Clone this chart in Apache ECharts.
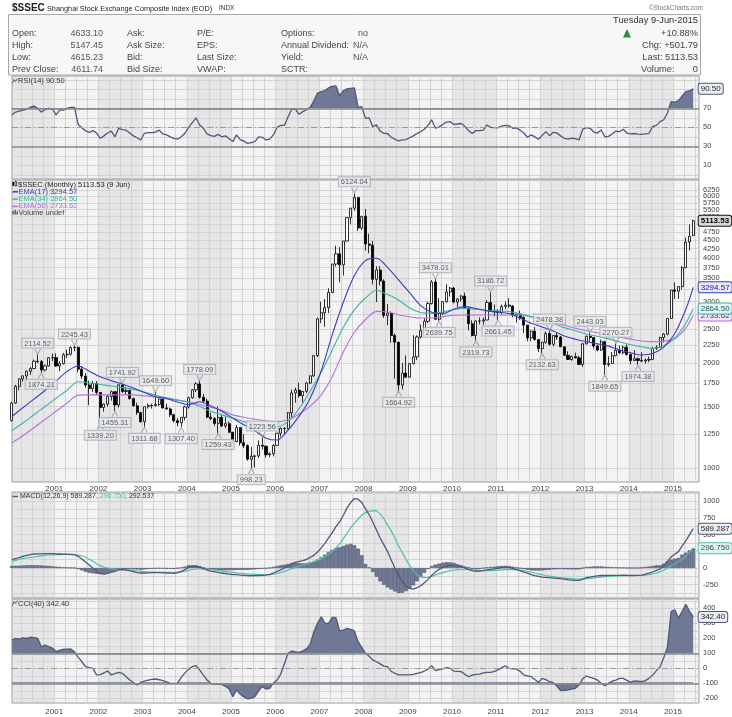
<!DOCTYPE html>
<html><head><meta charset="utf-8">
<script src="https://cdn.jsdelivr.net/npm/echarts@6/dist/echarts.min.js"></script>
<style>html,body{margin:0;padding:0;background:#fff}#c{width:732px;height:717px}</style>
</head><body><div id="c"></div>
<script>
// ---------------- DATA (monthly, index 0 = Jan 2000) ----------------
const firstYear = 2000;
const opens = [
1368,1535,1714,1800,1836,1894,1928,2023,2021,1910,1961,2070,
2073,1960,1990,2112,2119,2214,2218,1920,1834,1730,1689,1747,
1646,1491,1524,1604,1654,1516,1732,1657,1669,1581,1507,1442,
1358,1499,1512,1510,1521,1576,1487,1477,1421,1367,1348,1397,
1497,1590,1675,1742,1595,1555,1399,1386,1342,1396,1320,1340,
1266,1191,1306,1181,1159,1060,1080,1083,1162,1155,1092,1099,
1161,1258,1299,1298,1440,1641,1672,1612,1658,1752,1837,2099,
2675,2786,2881,3183,3841,4109,3820,4471,5218,5552,5955,4871,
5262,4383,4348,3473,3693,3433,2736,2775,2397,2293,1729,1871,
1821,1991,2082,2373,2477,2633,2959,3412,2668,2779,2996,3195,
3277,2989,3051,3110,2871,2592,2398,2638,2639,2656,2979,2820,
2808,2790,2905,2928,2911,2743,2762,2701,2567,2359,2468,2333,
2199,2292,2428,2263,2397,2373,2225,2103,2047,2086,2069,1980,
2269,2385,2366,2237,2178,2301,1979,1994,2098,2175,2141,2220,
2116,2033,2056,2033,2026,2039,2048,2202,2217,2364,2420,2683,
3235,3210,3310,3748,4442,4633.10];
const highs = [
1546,1730,1806,1843,1900,1948,2045,2114.52,2038,1980,2079,2125,
2131,2025,2137,2183,2232,2245.43,2230,1960,1870,1780,1777,1776,
1650,1530,1620,1667,1662,1736,1741.92,1710,1680,1590,1540,1450,
1500,1531,1530,1649.60,1580,1590,1530,1490,1430,1390,1400,1507,
1600,1685,1760,1778.09,1630,1580,1440,1400,1500,1420,1400,1360,
1270,1330,1310,1250,1170,1150,1090,1200,1223.56,1160,1110,1170,
1260,1307,1310,1445,1678,1700,1757,1660,1760,1840,2100,2698,
2995,3050,3274,3841,4335,4300,4471,5218,5562,6124.04,5955,5273,
5522,4695,4472,3786,3786,3473,2952,2810,2430,2300,2000,2100,
2000,2402,2400,2579,2688,2995,3454,3478.01,3068,3000,3361,3300,
3306,3060,3129,3181,2880,2650,2650,2700,2700,3030,3186.72,2940,
2850,2940,3000,3067,2930,2780,2826,2720,2570,2480,2536,2340,
2300,2460,2478.38,2400,2453,2390,2230,2160,2100,2140,2100,2280,
2400,2443.03,2370,2250,2334,2315,2092,2150,2270.27,2242,2243,2260,
2130,2177,2075,2146,2060,2087,2224,2248,2378,2434,2683,3239,
3406,3324,3790,4572,4986,5147.45];
const lows = [
1361,1527,1668,1768,1791,1850,1925,1999,1874.21,1890,1955,2026,
1950,1893,1980,2068,2100,2160,1880,1800,1700,1514,1650,1620,
1339.20,1450,1500,1560,1455.31,1490,1640,1620,1570,1500,1420,1348,
1311.68,1480,1480,1500,1505,1480,1470,1400,1350,1316,1307.40,1370,
1480,1580,1650,1580,1540,1390,1370,1320,1259.43,1310,1300,1262,
1177,1185,1160,1140,1050,998.23,1004,1070,1130,1070,1074,1080,
1160,1230,1250,1290,1400,1540,1590,1540,1640,1740,1825,2080,
2600,2541,2780,3170,3780,3404,3560,4450,5000,5462,4778,4812,
4195,4123,3357,2990,3333,2693,2566,2284,1802,1664.92,1678,1814,
1814,1985,2037,2350,2460,2600,2940,2667,2639.75,2750,2980,3100,
2963,2890,3000,2860,2481,2382,2319.73,2580,2574,2650,2800,2720,
2661.45,2750,2850,2880,2700,2610,2660,2437,2308,2307,2319,2149,
2132.63,2270,2242,2230,2330,2220,2100,2040,2029,2060,1974,1949,
2260,2300,2200,2161,2170,1849.65,1950,1990,2090,2120,2120,2100,
1984,2030,1974.38,2010,1991,2010,2040,2180,2210,2290,2400,2680,
3049,3050,3250,3740,4198,4615.23];
const closes = [
1535,1714,1800,1836,1894,1928,2023,2021,1910,1961,2070,2073,
1960,1990,2112,2119,2214,2218,1920,1834,1730,1689,1747,1646,
1491,1524,1604,1654,1516,1732,1657,1669,1581,1507,1442,1358,
1499,1512,1510,1521,1576,1487,1477,1421,1367,1348,1397,1497,
1590,1675,1742,1595,1555,1399,1386,1342,1396,1320,1340,1266,
1191,1306,1181,1159,1060,1080,1083,1162,1155,1092,1099,1161,
1258,1299,1298,1440,1641,1672,1612,1658,1752,1837,2099,2675,
2786,2881,3183,3841,4109,3820,4471,5218,5552,5955,4871,5262,
4383,4348,3473,3693,3433,2736,2775,2397,2293,1729,1871,1821,
1991,2082,2373,2477,2633,2959,3412,2668,2779,2996,3195,3277,
2989,3051,3110,2871,2592,2398,2638,2639,2656,2979,2820,2808,
2790,2905,2928,2911,2743,2762,2701,2567,2359,2468,2333,2199,
2292,2428,2263,2397,2373,2225,2103,2047,2086,2069,1980,2269,
2385,2366,2237,2178,2301,1979,1994,2098,2175,2141,2220,2116,
2033,2056,2033,2026,2039,2048,2202,2217,2364,2420,2683,3235,
3210,3310,3748,4442,4611.74,5113.53];

// EMA readings (quarterly samples + last bar)
const emaMonths = [0,3,6,9,12,15,18,21,24,27,30,33,36,39,42,45,48,51,54,57,60,63,66,69,72,75,78,81,84,87,90,93,96,99,102,105,108,111,114,117,120,123,126,129,132,135,138,141,144,147,150,153,156,159,162,165,168,171,174,177,180,183,185];
const ema17 = [1405,1489,1575,1668,1776,1892,1960,1895,1825,1780,1740,1695,1645,1600,1583,1545,1520,1548,1505,1455,1390,1330,1278,1218,1203,1285,1408,1585,1900,2410,2985,3560,3930,3990,3760,3460,3180,2920,2795,2770,2850,2900,2865,2820,2795,2770,2685,2600,2535,2470,2390,2340,2300,2268,2235,2180,2140,2108,2128,2220,2430,2850,3294.57];
const ema34 = [1280,1346,1421,1501,1584,1671,1767,1755,1735,1718,1700,1680,1652,1615,1590,1565,1543,1500,1455,1420,1390,1358,1337,1322,1313,1360,1480,1660,1880,2180,2530,2840,3070,3230,3140,3030,2875,2790,2775,2800,2845,2865,2850,2828,2818,2810,2760,2715,2670,2600,2525,2475,2420,2385,2345,2300,2255,2225,2200,2240,2360,2600,2864.50];
const ema50 = [1180,1237,1305,1378,1454,1534,1618,1620,1620,1620,1620,1620,1610,1595,1580,1565,1547,1520,1493,1465,1420,1398,1380,1365,1357,1375,1428,1504,1620,1830,2150,2450,2660,2810,2800,2750,2712,2690,2690,2715,2740,2745,2745,2745,2745,2745,2745,2710,2670,2620,2565,2515,2475,2440,2405,2370,2340,2312,2302,2310,2345,2520,2733.62];

const rsi14 = [
63,66,67,68,69,71,72.5,70,66,68.5,70,69.5,
63,68,68,70,71,71,53,49.5,46.5,44.5,46.5,44,
38.4,41,44,46,40,49,47.5,47,44,41,39,36.7,
43.7,44.5,44.5,45,47,43,42,40,38.4,37.5,40,43.7,
50,55,60,52.5,49,43,41.2,40.5,42.6,40,41,38,
35,42,37,35.5,33,34,35,40,39.5,36.7,37.5,42,
50,52,52,61,69,69,63.7,66.5,68.5,71,78,86,
87.5,88.5,91.5,93,93.5,83.3,88.5,90.5,91,91.5,71,71.7,
59.5,60,50.7,52.5,46,43.7,43.5,39.5,37.5,35.6,36.7,37,
39,41,43.5,45.5,48,52,58,49,50.5,53,55.5,56,
53,53.5,54,51,46.5,43.5,46.5,46.5,47,52.5,50,49.6,
49.5,51.4,52,51.5,49,49.5,47,44,39.5,42,40,37.4,
41.5,45.4,41.2,44.7,44,41,38.4,37.5,38.5,38,36.7,48,
49.6,49,45,44,47.2,40,40.5,43,46,45.4,48,44,
43,43.5,42.8,42.6,43,43.7,51,52,56,58,65,77,
76.5,78,83,87.5,88.5,90.50];

const macdLine = [
125,140,155,175,188,200,210,213,212,215,215,214,
212,210,208,206,204,200,175,135,90,45,0,-45,
-80,-90,-80,-62,-50,-28,-25,-32,-40,-55,-70,-75,
-75,-73,-70,-68,-70,-73,-75,-78,-80,-70,-50,-25,
10,22,25,15,-10,-30,-45,-55,-65,-75,-82,-90,
-98,-100,-105,-110,-115,-116,-115,-112,-110,-108,-95,-75,
-50,-28,0,30,65,85,100,110,130,160,190,240,
300,370,450,530,620,690,790,900,980,1040,1030,980,
890,800,690,570,450,350,250,120,0,-110,-200,-270,
-305,-315,-295,-265,-220,-170,-110,-60,-20,10,30,40,
40,30,20,0,-20,-40,-50,-45,-38,-28,-20,-12,
-5,5,10,5,-5,-20,-40,-60,-78,-100,-115,-125,
-135,-140,-145,-150,-155,-160,-168,-175,-180,-185,-185,-165,
-145,-135,-125,-118,-112,-112,-110,-110,-110,-110,-108,-110,
-112,-112,-110,-105,-90,-78,-60,-35,-15,35,100,165,
205,245,330,410,500,589.287];
const macdSignal = [
100,115,128,140,150,160,165,175,183,190,195,198,
200,201,202,202,201,200,195,183,165,130,100,65,
35,15,0,-10,-18,-20,-22,-25,-30,-38,-45,-50,
-55,-58,-60,-62,-63,-64,-65,-66,-66,-65,-58,-48,
-35,-22,-15,-12,-14,-17,-22,-28,-35,-42,-50,-58,
-65,-72,-78,-83,-88,-93,-96,-99,-100,-101,-99,-92,
-80,-68,-50,-30,-10,10,28,42,58,75,95,115,
140,170,205,250,300,360,440,520,600,670,730,790,
830,850,860,855,810,740,640,560,450,330,230,130,
40,-40,-100,-135,-145,-140,-125,-105,-85,-70,-55,-40,
-30,-25,-22,-22,-25,-28,-32,-36,-38,-38,-36,-34,
-32,-28,-25,-24,-25,-28,-35,-42,-52,-62,-75,-88,
-100,-112,-122,-130,-138,-145,-150,-155,-160,-163,-165,-163,
-160,-155,-148,-142,-136,-130,-126,-122,-120,-117,-115,-113,
-113,-112,-112,-110,-106,-100,-90,-75,-55,-30,0,30,
65,95,130,180,235,296.750];
const macdHist = [
30,32,35,38,40,42,42,40,38,35,30,25,
20,15,10,8,5,2,-15,-35,-55,-70,-80,-88,
-90,-85,-70,-55,-40,-25,-20,-15,-15,-18,-22,-25,
-20,-15,-12,-8,-7,-9,-10,-12,-14,-5,8,22,
40,42,40,27,5,-12,-22,-27,-30,-32,-32,-32,
-33,-28,-27,-27,-27,-23,-19,-13,-10,-7,4,17,
30,40,50,60,72,75,72,68,72,85,95,125,
160,200,240,270,300,310,330,350,360,340,290,190,
60,10,-60,-130,-200,-250,-290,-320,-350,-375,-370,-345,
-310,-260,-200,-130,-70,-15,30,50,65,80,85,85,
75,55,40,22,5,-12,-20,-12,-5,8,15,20,
25,30,32,28,20,8,-5,-18,-25,-35,-38,-38,
-35,-30,-25,-20,-18,-15,-18,-20,-20,-22,-20,-2,
15,20,23,24,24,18,16,12,10,7,7,3,
1,0,2,5,16,22,30,40,40,65,100,125,
140,150,200,230,265,292.537];

const cci40 = [
189,200,195,203,200,207,205,200,144,155,145,135,
112,120,127,128,129,110,75,44,12,5,0,-44,
-42,-30,-18,-44,-35,-27,-33,-55,-78,-95,-111,-93,
-85,-78,-74,-71,-76,-82,-90,-100,-100,-98,-60,-30,
-5,11,18,-11,-45,-78,-100,-107,-105,-107,-120,-138,
-189,-144,-173,-190,-204,-200,-189,-150,-122,-138,-133,-100,
-78,-38,30,100,116,110,107,116,130,160,244,300,
344,300,300,340,338,249,255,267,260,249,178,140,
100,80,56,44,30,15,11,-20,-33,-44,-44,-44,
-44,-40,-33,-28,-18,-5,18,-16,-8,-4,4,0,
-18,-20,-22,-40,-56,-45,-40,-38,-30,-27,-27,-20,
-11,5,16,0,-4,-4,-20,-44,-50,-56,-75,-93,
-67,-75,-89,-96,-120,-149,-146,-144,-138,-133,-111,-70,
-51,-60,-67,-78,-100,-116,-100,-85,-78,-67,-67,-80,
-93,-84,-86,-89,-82,-67,-45,-15,10,70,140,378,
390,335,380,427,380,342.40];

// price annotations: [month index, value, side]
const annotations = [[7,2114.52,'top'],[8,1874.21,'bottom'],[17,2245.43,'top'],[24,1339.20,'bottom'],[28,1455.31,'bottom'],[30,1741.92,'top'],[36,1311.68,'bottom'],[39,1649.60,'top'],[46,1307.40,'bottom'],[51,1778.09,'top'],[56,1259.43,'bottom'],[65,998.23,'bottom'],[68,1223.56,'top'],[93,6124.04,'top'],[105,1664.92,'bottom'],[115,3478.01,'top'],[116,2639.75,'bottom'],[126,2319.73,'bottom'],[130,3186.72,'top'],[132,2661.45,'bottom'],[144,2132.63,'bottom'],[146,2478.38,'top'],[157,2443.03,'top'],[161,1849.65,'bottom'],[164,2270.27,'top'],[170,1974.38,'bottom']];

// tick labels
const yearLabels = [2001,2002,2003,2004,2005,2006,2007,2008,2009,2010,2011,2012,2013,2014,2015];
const shadedYears = [2000,2002,2004,2006,2008,2010,2012,2014];
const priceTicks = [1000,1250,1500,1750,2000,2250,2500,2750,3000,3250,3500,3750,4000,4250,4500,4750,5000,5250,5500,5750,6000,6250];
const priceLabelsA = [1000,1250,1500,1750,2000,2250,2500,2750,3000,3250,3500,3750,4000,4250,4500,4750,5000,5250,5500,5750,6250];
const priceLabelsB = [6000];
const rsiTicks = [10,30,50,70,90];
const rsiLevels = [30,50,70];
const macdTicks = [-250,0,250,500,750,1000];
const cciTicks = [-200,-100,0,100,200,300,400];
const cciLevels = [-100,0,100];

// header info
const quote = {open:'4633.10', high:'5147.45', low:'4615.23', prev:'4611.74', date:'Tuesday 9-Jun-2015', pct:'+10.88%', chg:'+501.79', last:'5113.53', volume:'0'};

// ---------------- LAYOUT ----------------
const FONT = '"Liberation Sans", Arial, Helvetica, sans-serif';
const X0 = 12, XW = 687;
const XMIN = 0.54, XMAX = 187.07;
const P = {
  rsi:  {top: 76,  height: 103, min: -4.4, max: 104},
  main: {top: 180, height: 302, min: 912,  max: 6687},
  macd: {top: 492, height: 106, min: -449, max: 1138},
  cci:  {top: 599, height: 104, min: -231, max: 462}
};
function yPix(p, v) { return p.top + (p.max - v) / (p.max - p.min) * p.height; }
const xv = i => i + 0.5;
const quarterTicks = []; for (let m = 3; m <= 186; m += 3) quarterTicks.push(m);
const yearTicks = yearLabels.map(y => (y - firstYear) * 12);
const C = {bg:'#f3f3f3', band:'#e6e6e6', grid:'#d3d3d3', border:'#9c9c9c', slate:'#4f5878', fill:'#6f7894',
  e17:'#3b3bc4', e34:'#3db3a2', e50:'#b56fe0', sig:'#4fbfae', axis:'#444'};

const gridBase = {left: X0, width: XW, outerBoundsMode: 'none', containLabel: false};
const shown = {show: true, backgroundColor: 'rgba(0,0,0,0)', borderColor: C.border, borderWidth: 1};
const grids = [
  Object.assign({}, gridBase, shown, {top: P.rsi.top, height: P.rsi.height}),
  Object.assign({}, gridBase, {top: P.rsi.top, height: yPix(P.rsi, 70) - P.rsi.top}),
  Object.assign({}, gridBase, shown, {top: P.main.top, height: P.main.height}),
  Object.assign({}, gridBase, shown, {top: P.macd.top, height: P.macd.height}),
  Object.assign({}, gridBase, shown, {top: P.cci.top, height: P.cci.height}),
  Object.assign({}, gridBase, {top: P.cci.top, height: yPix(P.cci, 100) - P.cci.top}),
  Object.assign({}, gridBase, {top: yPix(P.cci, -100), height: P.cci.top + P.cci.height - yPix(P.cci, -100)})
];

function mkX(gi, showAxis, labels, margin) {
  return {type: 'value', gridIndex: gi, min: XMIN, max: XMAX, show: showAxis,
    axisLine: {show: false}, axisTick: {show: false, customValues: quarterTicks},
    axisLabel: {show: labels, customValues: yearTicks, formatter: v => String(firstYear + Math.round(v / 12)),
      fontSize: 8, fontFamily: FONT, color: C.axis, margin: margin || 3, hideOverlap: false},
    splitLine: {show: showAxis, lineStyle: {color: C.grid, width: 1}}};
}
function mkY(gi, p, gridVals, labelVals, type, split) {
  return {type: type || 'value', gridIndex: gi, min: p.min, max: p.max, position: 'right',
    axisLine: {show: false}, axisTick: {show: false, customValues: gridVals},
    axisLabel: {customValues: labelVals, formatter: v => String(Math.round(v)), fontSize: 7.5,
      fontFamily: FONT, color: C.axis, margin: 4, hideOverlap: false, showMinLabel: true, showMaxLabel: true},
    splitLine: {show: split !== false, lineStyle: {color: C.grid, width: 1}}};
}
const rsiGrid = []; for (let v = 0; v <= 100; v += 10) rsiGrid.push(v);
const macdGrid = []; for (let v = -375; v <= 1125; v += 125) macdGrid.push(v);
const cciGrid = []; for (let v = -200; v <= 450; v += 50) cciGrid.push(v);

const xAxes = [mkX(0, true, false), mkX(1, false, false), mkX(2, true, true, 3), mkX(3, true, false), mkX(4, true, true, 5), mkX(5, false, false), mkX(6, false, false)];
const yAxes = [
  mkY(0, P.rsi, rsiGrid, rsiTicks),
  {type: 'value', gridIndex: 1, min: 70, max: P.rsi.max, show: false},
  Object.assign(mkY(2, P.main, priceTicks, priceLabelsA, 'log'), {logBase: 10}),
  mkY(3, P.macd, macdGrid, macdTicks),
  mkY(4, P.cci, cciGrid, cciTicks),
  {type: 'value', gridIndex: 5, min: 100, max: P.cci.max, show: false},
  {type: 'value', gridIndex: 6, min: P.cci.min, max: -100, show: false},
  Object.assign(mkY(2, P.main, priceLabelsB, priceLabelsB, 'log', false), {logBase: 10})
];

function bandSeries(ai, yRef) {
  return {type: 'custom', xAxisIndex: ai, yAxisIndex: ai, z: -1, silent: true, animation: false,
    data: shadedYears.map(y => [(y - firstYear) * 12, (y - firstYear) * 12 + 12]),
    encode: {x: [0, 1]},
    renderItem: (params, api) => {
      const cs = params.coordSys;
      const a = api.coord([api.value(0), yRef])[0];
      const b = api.coord([api.value(1), yRef])[0];
      const area = {x: cs.x, y: cs.y, width: cs.width, height: cs.height};
      const r = echarts.graphic.clipRectByRect({x: a, y: cs.y, width: b - a, height: cs.height}, area);
      const children = [];
      if (params.dataIndex === 0) children.push({type: 'rect', shape: area, style: {fill: C.bg}, z2: -2});
      if (r) children.push({type: 'rect', shape: r, style: {fill: C.band}, z2: -1});
      return {type: 'group', children};
    }};
}
function badge(x, y, text, border, bg, color, bold) {
  return {silent: true, animation: false, symbol: 'rect', symbolSize: 1, itemStyle: {color: 'rgba(0,0,0,0)'},
    label: {show: true, position: 'right', distance: 5, formatter: text, fontFamily: FONT, fontSize: 8,
      fontWeight: bold ? 'bold' : 'normal', color: color, backgroundColor: bg, borderColor: border,
      borderWidth: 1, borderRadius: 2, padding: [1, 2, 0, 2], lineHeight: 9},
    data: [{coord: [x, y]}]};
}
function levelLines(levels, mid) {
  return {silent: true, animation: false, symbol: ['none', 'none'], label: {show: false},
    data: levels.map(v => ({yAxis: v, lineStyle: v === mid
      ? {color: '#9a9a9a', width: 1, type: [6, 3, 1, 3]}
      : {color: '#8a8a8a', width: 1.6, type: 'solid'}}))};
}
const last = closes.length - 1;
const pts = arr => arr.map((v, i) => [xv(i), v]);
const emaPts = arr => arr.map((v, k) => [xv(emaMonths[k]), v]);
const lineBase = {type: 'line', symbol: 'none', animation: false, silent: true};
const caretUp = 'path://M0,5L3,0L6,5';

const series = [
  bandSeries(0, 50), bandSeries(2, 2000), bandSeries(3, 0), bandSeries(4, 0),
  // RSI
  Object.assign({}, lineBase, {xAxisIndex: 1, yAxisIndex: 1, z: 1, data: pts(rsi14), lineStyle: {opacity: 0},
    areaStyle: {color: C.fill, opacity: 1, origin: 'start'}}),
  Object.assign({}, lineBase, {xAxisIndex: 0, yAxisIndex: 0, z: 4, data: pts(rsi14), lineStyle: {color: C.slate, width: 1.3},
    markLine: levelLines(rsiLevels, 50),
    markPoint: badge(xv(last), rsi14[last], rsi14[last].toFixed(2), C.slate, '#eceef3', '#222')}),
  // price
  {type: 'candlestick', xAxisIndex: 2, yAxisIndex: 2, z: 3, animation: false, silent: true, barWidth: 2.6,
    data: opens.map((o, i) => [xv(i), o, closes[i], lows[i], highs[i]]), encode: {x: 0, y: [1, 2, 3, 4]},
    itemStyle: {color: '#ffffff', color0: '#000000', borderColor: '#000000', borderColor0: '#000000', borderWidth: 0.8},
    markPoint: badge(xv(last), closes[last], closes[last].toFixed(2), '#111', '#d9d9d9', '#000', true)},
  Object.assign({}, lineBase, {xAxisIndex: 2, yAxisIndex: 2, z: 4, smooth: 0.3, data: emaPts(ema50), lineStyle: {color: C.e50, width: 1.1},
    markPoint: badge(xv(emaMonths[emaMonths.length - 1]), ema50[ema50.length - 1], ema50[ema50.length - 1].toFixed(2), C.e50, '#f3e8fb', '#4a2470')}),
  Object.assign({}, lineBase, {xAxisIndex: 2, yAxisIndex: 2, z: 4, smooth: 0.3, data: emaPts(ema34), lineStyle: {color: C.e34, width: 1.1},
    markPoint: badge(xv(emaMonths[emaMonths.length - 1]), ema34[ema34.length - 1], ema34[ema34.length - 1].toFixed(2), C.e34, '#e3f5f2', '#1d5a52')}),
  Object.assign({}, lineBase, {xAxisIndex: 2, yAxisIndex: 2, z: 4, smooth: 0.3, data: emaPts(ema17), lineStyle: {color: C.e17, width: 1.1},
    markPoint: badge(xv(emaMonths[emaMonths.length - 1]), ema17[ema17.length - 1], ema17[ema17.length - 1].toFixed(2), C.e17, '#e7e7f9', '#1a1a7a')}),
  {type: 'scatter', xAxisIndex: 2, yAxisIndex: 2, z: 6, animation: false, silent: true, symbol: caretUp, symbolSize: [6, 5],
    itemStyle: {color: 'rgba(0,0,0,0)', borderColor: '#8f97a3', borderWidth: 1},
    data: annotations.map(a => ({value: [xv(a[0]), a[1]], symbolRotate: a[2] === 'top' ? 180 : 0,
      symbolOffset: [0, a[2] === 'top' ? -3 : 3], label: {position: a[2]}})),
    label: {show: true, formatter: p => p.value[1].toFixed(2), fontFamily: FONT, fontSize: 7.5, color: '#333',
      backgroundColor: '#e8ebef', borderColor: '#a3aab4', borderWidth: 1, padding: [1, 2, 0, 2], distance: 1, lineHeight: 8}},
  // MACD
  {type: 'bar', xAxisIndex: 3, yAxisIndex: 3, z: 2, animation: false, silent: true, barWidth: 3.6, data: pts(macdHist),
    itemStyle: {color: '#737d99', borderColor: '#464e6a', borderWidth: 0.6}},
  Object.assign({}, lineBase, {xAxisIndex: 3, yAxisIndex: 3, z: 4, data: pts(macdSignal), lineStyle: {color: C.sig, width: 1.2},
    markPoint: badge(xv(last), macdSignal[last], macdSignal[last].toFixed(3), C.sig, '#e3f5f2', '#1d5a52')}),
  Object.assign({}, lineBase, {xAxisIndex: 3, yAxisIndex: 3, z: 5, data: pts(macdLine), lineStyle: {color: C.slate, width: 1.3},
    markPoint: badge(xv(last), macdLine[last], macdLine[last].toFixed(3), C.slate, '#eceef3', '#222')}),
  // CCI
  Object.assign({}, lineBase, {xAxisIndex: 5, yAxisIndex: 5, z: 1, data: pts(cci40), lineStyle: {opacity: 0},
    areaStyle: {color: C.fill, opacity: 1, origin: 'start'}}),
  Object.assign({}, lineBase, {xAxisIndex: 6, yAxisIndex: 6, z: 1, data: pts(cci40), lineStyle: {opacity: 0},
    areaStyle: {color: C.fill, opacity: 1, origin: 'end'}}),
  Object.assign({}, lineBase, {xAxisIndex: 4, yAxisIndex: 4, z: 4, data: pts(cci40), lineStyle: {color: C.slate, width: 1.3},
    markLine: levelLines(cciLevels, 0),
    markPoint: badge(xv(last), cci40[last], cci40[last].toFixed(2), C.slate, '#eceef3', '#222')})
];

// ---------------- TEXT ----------------
function T(x, y, text, o) {
  o = o || {};
  return {type: 'text', x: x, y: y, silent: true, z: 50, style: {text: text, fill: o.fill || '#333', fontSize: o.size || 9,
    fontFamily: FONT, fontWeight: o.weight || 'normal', align: o.align || 'left', verticalAlign: 'middle', rich: o.rich}};
}
function L(x1, y1, x2, y2, color, w) {
  return {type: 'line', silent: true, z: 50, shape: {x1: x1, y1: y1, x2: x2, y2: y2}, style: {stroke: color, lineWidth: w || 1.5}};
}
const hdr = [
  {type: 'rect', silent: true, z: -5, shape: {x: 8.5, y: 14.5, width: 692, height: 60.5}, style: {fill: '#f7f7f7', stroke: '#a8a8a8', lineWidth: 1}},
  T(12, 8, '$SSEC', {size: 10, weight: 'bold', fill: '#222'}),
  T(47, 8.5, 'Shanghai Stock Exchange Composite Index (EOD)', {size: 7.3, fill: '#222'}),
  T(219, 8.5, 'INDX', {size: 6.4, fill: '#333'}),
  T(703, 8.5, '©StockCharts.com', {size: 6.5, fill: '#777', align: 'right'}),
  T(698, 20.5, quote.date, {size: 9.3, align: 'right'}),
  {type: 'polygon', silent: true, z: 50, shape: {points: [[623, 37.5], [631, 37.5], [627, 29]]}, style: {fill: '#2e8b3e'}},
  T(698, 33.5, quote.pct, {size: 9.3, align: 'right', fill: '#444'}),
  T(698, 45.5, 'Chg: ' + quote.chg, {size: 9.3, align: 'right', fill: '#444'}),
  T(698, 57.5, 'Last: ' + quote.last, {size: 9.3, align: 'right', fill: '#444'}),
  T(641, 69.5, 'Volume:', {size: 9.3, fill: '#444'}),
  T(698, 69.5, quote.volume, {size: 9.3, align: 'right', fill: '#444'})
];
const rows = [
  ['Open:', quote.open, 'Ask:', 'P/E:', 'Options:', 'no'],
  ['High:', quote.high, 'Ask Size:', 'EPS:', 'Annual Dividend:', 'N/A'],
  ['Low:', quote.low, 'Bid:', 'Last Size:', 'Yield:', 'N/A'],
  ['Prev Close:', quote.prev, 'Bid Size:', 'VWAP:', 'SCTR:', '']
];
rows.forEach((r, k) => {
  const y = 33.5 + k * 12;
  hdr.push(T(12, y, r[0], {fill: '#444'}), T(103, y, r[1], {align: 'right', fill: '#555'}),
    T(127, y, r[2], {fill: '#444'}), T(197, y, r[3], {fill: '#444'}), T(281, y, r[4], {fill: '#444'}),
    T(368, y, r[5], {align: 'right', fill: '#555'}));
});
// panel legends
const leg = [
  {type: 'polyline', silent: true, z: 50, shape: {points: [[12.5, 83], [14, 79.5], [15.5, 81.5], [17.5, 78.5]]}, style: {stroke: C.slate, lineWidth: 1, fill: null}},
  T(18, 81, 'RSI(14) ' + rsi14[last].toFixed(2), {size: 7.5}),
  {type: 'rect', silent: true, z: 50, shape: {x: 12.5, y: 182, width: 1.6, height: 4}, style: {fill: '#000'}},
  {type: 'rect', silent: true, z: 50, shape: {x: 15, y: 181.5, width: 1.6, height: 4.5}, style: {fill: '#fff', stroke: '#000', lineWidth: 0.7}},
  T(18, 184.5, '$SSEC (Monthly) ' + closes[last].toFixed(2) + ' (9 Jun)', {size: 7.5, fill: '#222'}),
  L(12.5, 191.8, 18, 191.8, C.e17), T(18.5, 191.8, 'EMA(17) ' + ema17[ema17.length - 1].toFixed(2), {size: 7.5, fill: C.e17}),
  L(12.5, 199.1, 18, 199.1, C.e34), T(18.5, 199.1, 'EMA(34) ' + ema34[ema34.length - 1].toFixed(2), {size: 7.5, fill: C.e34}),
  L(12.5, 206.4, 18, 206.4, C.e50), T(18.5, 206.4, 'EMA(50) ' + ema50[ema50.length - 1].toFixed(2), {size: 7.5, fill: C.e50}),
  {type: 'rect', silent: true, z: 50, shape: {x: 12.5, y: 211, width: 1.4, height: 3.5}, style: {fill: '#556'}},
  {type: 'rect', silent: true, z: 50, shape: {x: 14.5, y: 210, width: 1.4, height: 4.5}, style: {fill: '#556'}},
  {type: 'rect', silent: true, z: 50, shape: {x: 16.5, y: 211.5, width: 1.4, height: 3}, style: {fill: '#556'}},
  T(18.5, 213.2, 'Volume undef', {size: 7.5, fill: '#444'}),
  L(12.5, 496.5, 18, 496.5, C.slate),
  T(20, 496.5, '{a|MACD(12,26,9) ' + macdLine[last].toFixed(3) + ', }{b|' + macdSignal[last].toFixed(3) + '}{a|, ' + macdHist[last].toFixed(3) + '}',
    {size: 7, rich: {a: {fill: '#333', fontSize: 7, fontFamily: FONT}, b: {fill: C.sig, fontSize: 7, fontFamily: FONT}}}),
  {type: 'polyline', silent: true, z: 50, shape: {points: [[12.5, 605.5], [14, 601.5], [15.5, 603.5], [17.5, 600.5]]}, style: {stroke: C.slate, lineWidth: 1, fill: null}},
  T(18, 603.5, 'CCI(40) ' + cci40[last].toFixed(2), {size: 7.5})
];

const chart = echarts.init(document.getElementById('c'), null, {renderer: 'canvas'});
chart.setOption({
  animation: false,
  backgroundColor: '#ffffff',
  textStyle: {fontFamily: FONT},
  grid: grids,
  xAxis: xAxes,
  yAxis: yAxes,
  series: series,
  graphic: {elements: hdr.concat(leg)}
});
</script>
</body></html>
